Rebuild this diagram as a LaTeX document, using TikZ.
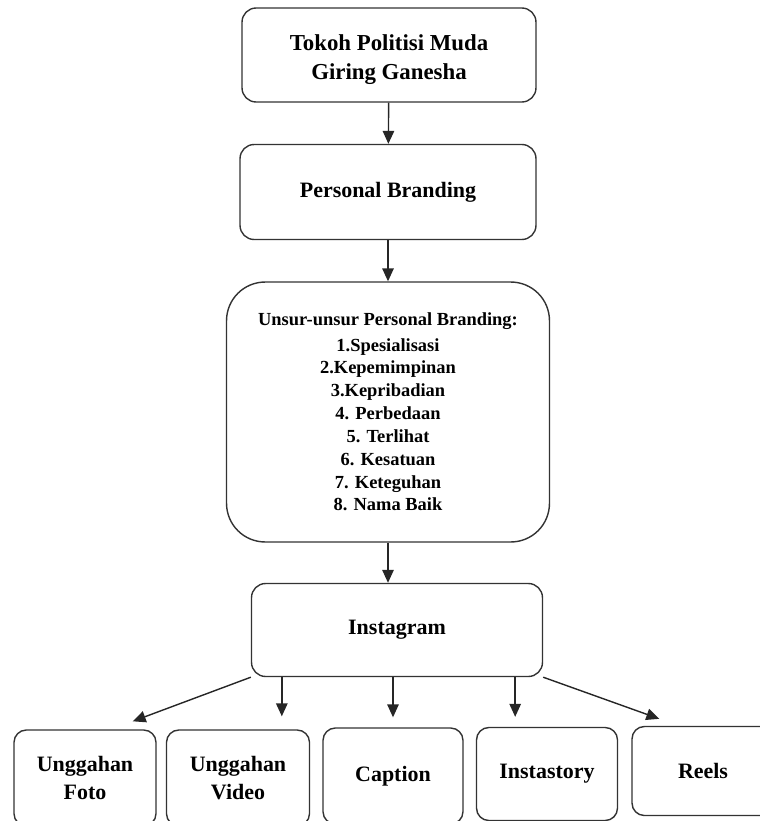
\documentclass[tikz,border=0pt]{standalone}
\usepackage{fontspec}
\setmainfont{Liberation Serif}
\usetikzlibrary{positioning, arrows.meta, calc}

\begin{document}
\begin{tikzpicture}[x=0.02cm, y=-0.02cm,
  box/.style={rounded corners=8pt, draw=black!80, line width=0.8pt,
              align=center, inner sep=0pt,
              font=\fontsize{12.5}{16}\selectfont\bfseries},
  bigbox/.style={box, rounded corners=22pt,
                 font=\fontsize{10.5}{13}\selectfont\bfseries},
  small/.style={box, rounded corners=7pt, minimum width=2.84cm, minimum height=1.92cm},
  toptext/.style={align=center, inner sep=0pt, yshift=-0.09cm,
                  font=\fontsize{13}{16.5}\selectfont\bfseries},
  arr/.style={-{Triangle[length=2.6mm, width=2.3mm]}, line width=0.8pt, black!85},
]
  \clip (0,0) rectangle (760,821);

  \node[box, minimum width=5.88cm, minimum height=1.88cm,
        label={[toptext]center:Tokoh Politisi Muda\\Giring Ganesha}] (tokoh) at (389,55) {};
  \node[box, minimum width=5.92cm, minimum height=1.9cm] (pb) at (388,192)
    {Personal Branding};
  \node[bigbox, minimum width=6.46cm, minimum height=5.2cm] (unsur) at (388,412)
    {Unsur-unsur Personal Branding:\\[1.5pt]1.Spesialisasi\\2.Kepemimpinan\\3.Kepribadian\\
     4. Perbedaan\\5. Terlihat\\6. Kesatuan\\7. Keteguhan\\8. Nama Baik};
  \node[box, minimum width=5.82cm, minimum height=1.86cm] (insta) at (397,630)
    {Instagram};

  \node[small] (foto) at (85,778) {Unggahan\\Foto};
  \node[small, minimum width=2.86cm] (video) at (238,778) {Unggahan\\Video};
  \node[small, minimum width=2.8cm] (caption) at (393,776) {Caption};
  \node[small, minimum width=2.82cm, minimum height=1.86cm] (story) at (547,774) {Instastory};
  \node[small, minimum height=1.78cm] (reels) at (703,771) {Reels};

  \draw[arr] (tokoh) -- (pb);
  \draw[arr] (pb) -- (pb.south |- unsur.north);
  \draw[arr] (unsur.south) -- (unsur.south |- insta.north);

  \draw[arr] (insta.south west) -- ([shift={(-24,-8)}]foto.north east);
  \draw[arr, shorten >=0.26cm] ([xshift=0.62cm]insta.south west)
    -- ([xshift=0.62cm]insta.south west |- video.north);
  \draw[arr, shorten >=0.2cm] (caption.north |- insta.south) -- (caption.north);
  \draw[arr, shorten >=0.2cm] ([xshift=-0.56cm]insta.south east)
    -- ([xshift=-0.56cm]insta.south east |- story.north);
  \draw[arr] (insta.south east) -- ([shift={(28,-7)}]reels.north west);
\end{tikzpicture}
\end{document}
